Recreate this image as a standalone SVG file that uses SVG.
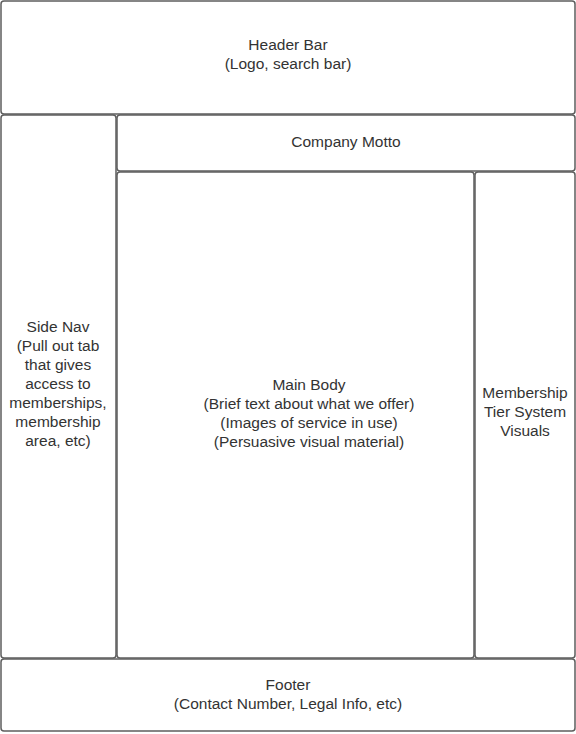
<svg xmlns="http://www.w3.org/2000/svg" width="576" height="734" viewBox="0 0 576 734">
<style>
.box{fill:#ffffff;stroke:#5e5e5e;stroke-width:1.5}
.t{font-family:"Liberation Sans",Arial,sans-serif;font-size:15.5px;fill:#333333;text-anchor:middle}
</style>
<rect width="576" height="734" fill="#ffffff"/>
<g id="header"><rect class="box" x="1" y="1" width="574" height="113" rx="3"/>
<text class="t" x="288" y="50">Header Bar</text><text class="t" x="288" y="69">(Logo, search bar)</text></g>
<g id="sidenav"><rect class="box" x="1" y="115" width="115" height="543" rx="3"/>
<text class="t" x="58" y="332">Side Nav</text><text class="t" x="58" y="351">(Pull out tab</text><text class="t" x="58" y="370">that gives</text><text class="t" x="58" y="389">access to</text><text class="t" x="58" y="408">memberships,</text><text class="t" x="58" y="427">membership</text><text class="t" x="58" y="446">area, etc)</text></g>
<g id="motto"><rect class="box" x="117" y="115" width="458" height="56" rx="3"/>
<text class="t" x="346" y="147">Company Motto</text></g>
<g id="main"><rect class="box" x="117" y="172" width="357" height="486" rx="3"/>
<text class="t" x="309" y="390">Main Body</text><text class="t" x="309" y="409">(Brief text about what we offer)</text><text class="t" x="309" y="428">(Images of service in use)</text><text class="t" x="309" y="447">(Persuasive visual material)</text></g>
<g id="membership"><rect class="box" x="475" y="172" width="100" height="486" rx="3"/>
<text class="t" x="525" y="398">Membership</text><text class="t" x="525" y="417">Tier System</text><text class="t" x="525" y="436">Visuals</text></g>
<g id="footer"><rect class="box" x="1" y="659" width="574" height="72" rx="3"/>
<text class="t" x="288" y="690">Footer</text><text class="t" x="288" y="709">(Contact Number, Legal Info, etc)</text></g>
<g id="connectors"></g>
</svg>
